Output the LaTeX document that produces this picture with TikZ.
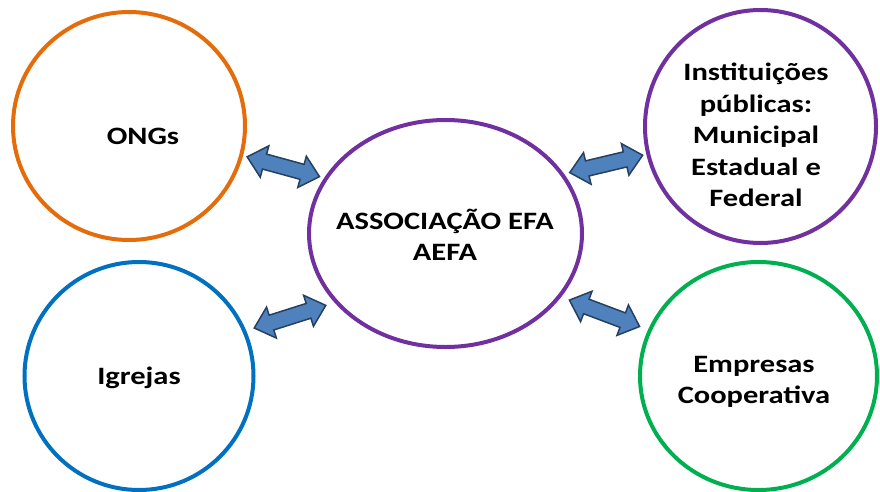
\documentclass[tikz,border=0pt]{standalone}
\usepackage{fontspec}
\usepackage{graphicx}
\setmainfont{Carlito}
\usetikzlibrary{shapes.geometric,shapes.arrows,calc}
\definecolor{corange}{RGB}{228,108,10}
\definecolor{cpurple}{RGB}{112,48,160}
\definecolor{cblue}{RGB}{0,112,192}
\definecolor{cgreen}{RGB}{0,176,80}
\definecolor{afill}{RGB}{79,129,189}
\definecolor{aline}{RGB}{37,64,97}
\newcommand{\wide}[1]{\scalebox{1.22}[1]{#1}}
\begin{document}
\begin{tikzpicture}[x=1pt,y=-1pt,
 ring/.style={ellipse, draw, line width=4pt, inner sep=0pt},
 lbl/.style={font=\fontsize{25}{31.5}\selectfont\bfseries, align=center, inner sep=0pt},
 dblarr/.style={double arrow, draw=aline, fill=afill, line width=1.5pt, minimum height=75pt, inner xsep=0pt, inner ysep=7pt, double arrow head extend=8.5pt, double arrow tip angle=84}]
\useasboundingbox (0,0) rectangle (880,492);
\node[ring, draw=corange, minimum width=232pt, minimum height=228pt] (ongs) at (129,126) {};
\node[ring, draw=cblue, minimum width=229pt, minimum height=228pt] (igr) at (139,376) {};
\node[ring, draw=cpurple, minimum width=273pt, minimum height=227pt] (assoc) at (445.5,233.5) {};
\node[ring, draw=cpurple, minimum width=231pt, minimum height=233pt] (inst) at (760.5,126.5) {};
\node[ring, draw=cgreen, minimum width=237pt, minimum height=228pt] (emp) at (758.5,376) {};
\node[lbl] (tongs) at (143,136) {\wide{ONGs}};
\node[lbl] (tassoc) at (445,235) {\wide{ASSOCIAÇÃO EFA}\\\wide{AEFA}};
\node[lbl] (tinst) at (756,135) {\wide{Instituições}\\\wide{públicas:}\\\wide{Municipal}\\\wide{Estadual e}\\\wide{Federal}};
\node[lbl] (tigr) at (139,378) {\wide{Igrejas}};
\node[lbl] (temp) at (754,382) {\wide{Empresas}\\\wide{Cooperativa}};
\node[dblarr, rotate=-15.3] (a1) at (283.3,166.7) {};
\node[dblarr, rotate=17.6] (a2) at (290,316.7) {};
\node[dblarr, rotate=13.4] (a3) at (606.2,163.9) {};
\node[dblarr, rotate=-20.6] (a4) at (604.5,313.3) {};
\end{tikzpicture}
\end{document}
